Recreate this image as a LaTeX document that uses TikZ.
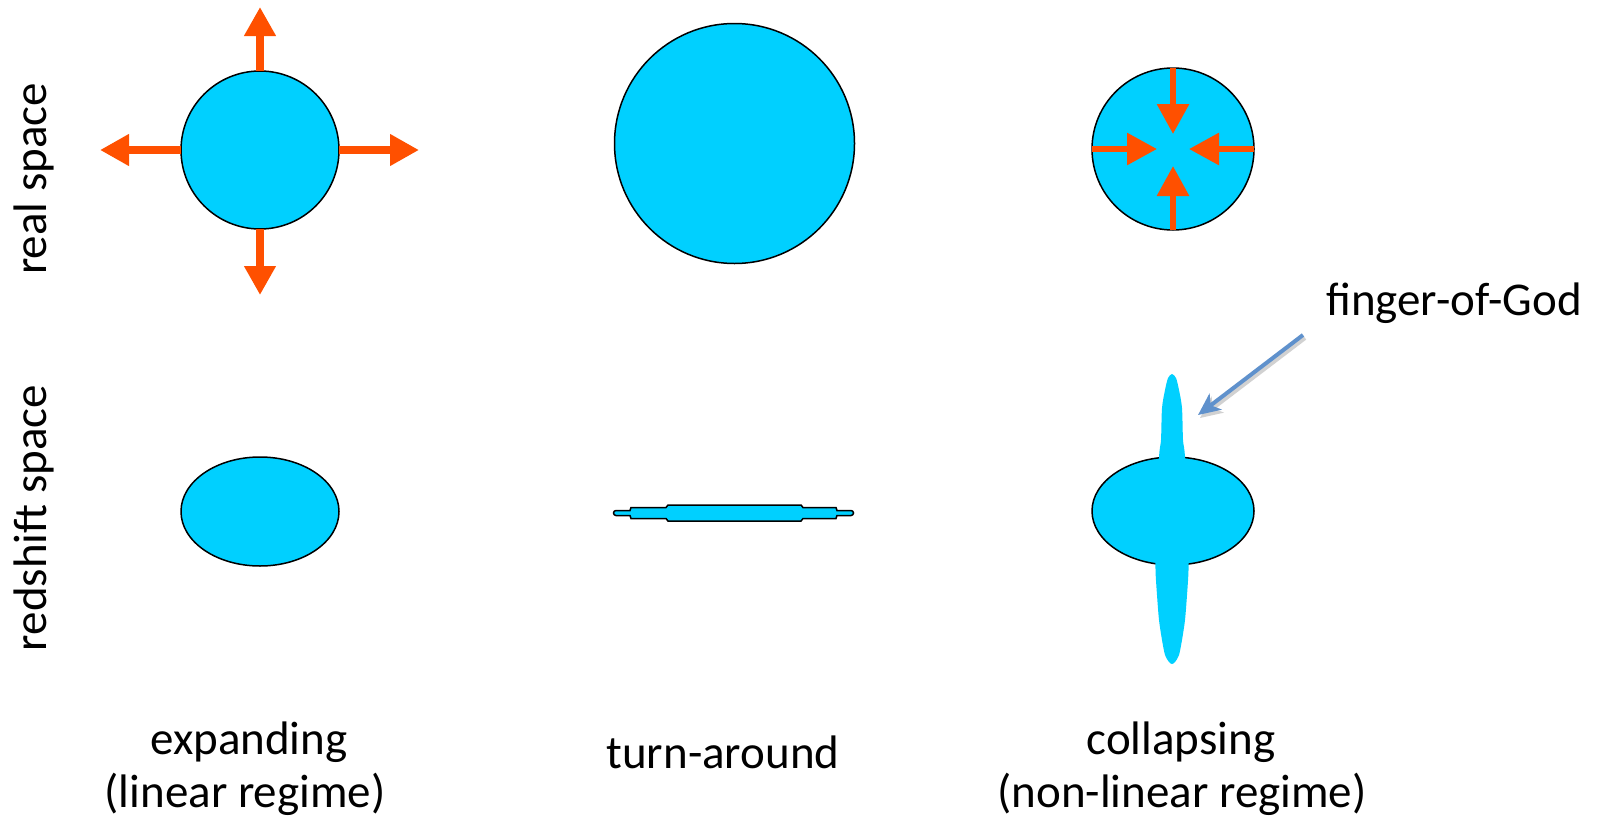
\documentclass[tikz,border=0pt]{standalone}
\usepackage{fontspec}
\setmainfont{Carlito}
\usetikzlibrary{arrows.meta,shapes.geometric}
\definecolor{blobc}{RGB}{0,208,255}
\definecolor{flowc}{RGB}{255,80,0}
\definecolor{pointerc}{RGB}{95,145,204}
\begin{document}
\begin{tikzpicture}[x=1pt,y=-1pt,
  blob/.style={draw=black, line width=1.5pt, fill=blobc, inner sep=0pt, outer sep=0pt},
  outflow/.style={draw=flowc, line width=8pt, -{Triangle[length=29pt,width=30pt]}},
  inflow/.style={draw=flowc, line width=6pt, -{Triangle[length=30pt,width=31pt]}},
  pointer/.style={draw=pointerc, line width=4pt, -{Stealth[length=22pt,width=20pt,inset=6pt]}},
  pshadow/.style={draw=black!18, line width=4pt, -{Stealth[length=22pt,width=20pt,inset=6pt]}},
  lbl/.style={font=\fontsize{47}{50}\selectfont, inner sep=0pt, outer sep=0pt, text=black}]
\useasboundingbox (0,0) rectangle (1600,819);

% ---------- real space ----------
\node[blob, circle, minimum size=158pt] (e1) at (260,150) {};
\coordinate (e1n) at (260,7);
\coordinate (e1s) at (260,295);
\coordinate (e1w) at (100,150);
\coordinate (e1e) at (419,150);
\draw[outflow] (e1.north) -- (e1n);
\draw[outflow] (e1.south) -- (e1s);
\draw[outflow] (e1.west) -- (e1w);
\draw[outflow] (e1.east) -- (e1e);

\node[blob, circle, minimum size=240pt] (t1) at (734.5,143.5) {};

\node[blob, circle, minimum size=162pt] (c1) at (1173,149) {};
\coordinate (c1n) at (1173,134);
\coordinate (c1s) at (1173,166);
\coordinate (c1w) at (1157,149);
\coordinate (c1e) at (1189,149);
\draw[inflow] (c1.north) -- (c1n);
\draw[inflow] (c1.south) -- (c1s);
\draw[inflow] (c1.west) -- (c1w);
\draw[inflow] (c1.east) -- (c1e);

% ---------- redshift space ----------
\node[blob, ellipse, minimum width=158pt, minimum height=109pt] (e2) at (260,511.5) {};

\filldraw[fill=blobc, draw=black, line width=1.5pt]
  (616,510.5) -- (630,510.5) -- (631,507.5) -- (666,507.5) -- (668,505) -- (801,505)
  -- (803,507.5) -- (836,507.5) -- (837,510.5) -- (851,510.5)
  arc[start angle=-90, end angle=90, radius=2.5]
  -- (837,515.5) -- (836,518.5) -- (803,518.5) -- (801,521) -- (668,521) -- (666,518.5)
  -- (631,518.5) -- (630,515.5) -- (616,515.5)
  arc[start angle=90, end angle=270, radius=2.5] -- cycle;

\node[blob, ellipse, minimum width=162pt, minimum height=108pt] (c2) at (1173,511) {};
\fill[blobc] plot[smooth cycle, tension=0.45] coordinates {
  (1172,374) (1176,378) (1179,390) (1182,408) (1183,440) (1185,458) (1188,540) (1188.5,570)
  (1187,595) (1185,620) (1182,640) (1179,655) (1175,662) (1172,664)
  (1169,662) (1165,655) (1162,640) (1159,620) (1157,595) (1155.5,570) (1156,540)
  (1159,458) (1161,440) (1162,408) (1165,390) (1168,378)};

% ---------- finger-of-God pointer ----------
\node[lbl, anchor=base] (fog) at (1454,315) {finger-of-God};
\coordinate (fogtail) at (1303,335);
\coordinate (fogtip) at (1198,415);
\draw[pshadow] ([shift={(2,3)}]fogtail) -- ([shift={(2,3)}]fogtip);
\draw[pointer] (fogtail) -- (fogtip);

% ---------- labels ----------
\node[lbl, rotate=90, anchor=base] (rs) at (46,179) {real space};
\node[lbl, rotate=90, anchor=base] (zs) at (46,518) {redshift space};

\node[lbl, anchor=base] (ex1) at (249,754) {expanding};
\node[lbl, anchor=base] (ex2) at (245,807) {(linear regime)};
\node[lbl, anchor=base] (ta) at (723,768) {turn-around};
\node[lbl, anchor=base] (co1) at (1181,754) {collapsing};
\node[lbl, anchor=base] (co2) at (1182,807) {(non-linear regime)};
\end{tikzpicture}
\end{document}
